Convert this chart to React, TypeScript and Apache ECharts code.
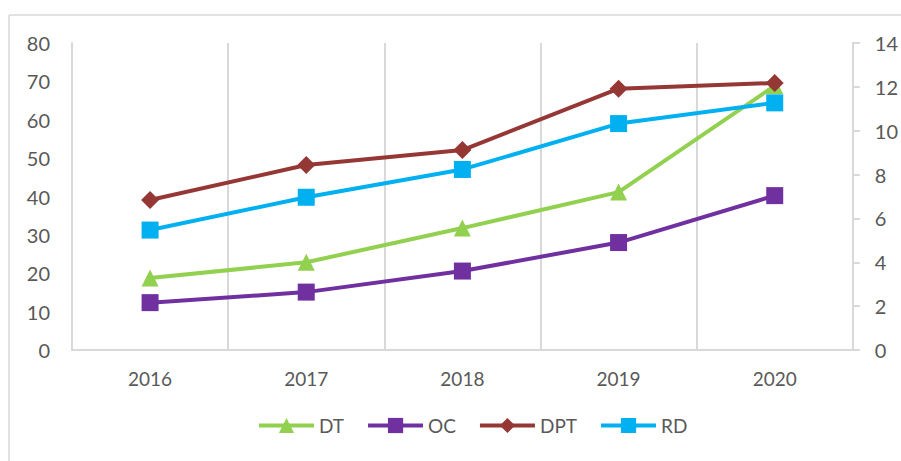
import React, { useEffect, useRef } from "react";
import * as echarts from "echarts";

const categories = ["2016", "2017", "2018", "2019", "2020"];
const leftTicks = { min: 0, max: 80, interval: 10 };
const rightTicks = { min: 0, max: 14, interval: 2 };

// right-axis series
const dtValues = [3.28, 4.0, 5.56, 7.2, 12.05];
const ocValues = [2.16, 2.64, 3.6, 4.9, 7.04];
// left-axis series
const dptValues = [39.1, 48.2, 52.1, 68.1, 69.6];
const rdValues = [31.25, 39.8, 47.05, 59.0, 64.4];

const FONT = "Lato, 'Noto Sans', sans-serif";
const GRID_COLOR = "#d9d9d9";
const TEXT_COLOR = "#595959";

export default function App() {
  const ref = useRef<HTMLDivElement>(null);

  useEffect(() => {
    if (!ref.current) return;
    const chart = echarts.init(ref.current, undefined, { renderer: "svg" });
    const mk = (
      name: string,
      data: number[],
      color: string,
      symbol: string,
      yAxisIndex: number,
      size: number
    ) => ({
      name,
      type: "line",
      data,
      yAxisIndex,
      symbol,
      symbolSize: size,
      showSymbol: true,
      lineStyle: { color, width: 4 },
      itemStyle: { color },
      emphasis: { disabled: true },
    });
    chart.setOption({
      animation: false,
      textStyle: { fontFamily: FONT },
      grid: { left: 72, right: 48, top: 43, bottom: 111, containLabel: false },
      graphic: [
        {
          type: "line",
          shape: { x1: 9, y1: 15, x2: 901, y2: 15 },
          style: { stroke: GRID_COLOR, lineWidth: 1.5 },
          silent: true,
        },
        {
          type: "line",
          shape: { x1: 9, y1: 15, x2: 9, y2: 461 },
          style: { stroke: GRID_COLOR, lineWidth: 1.5 },
          silent: true,
        },
      ],
      legend: {
        left: 252,
        top: 411,
        itemWidth: 55,
        itemHeight: 19,
        itemGap: 22,
        lineStyle: { width: 4 },
        textStyle: { fontSize: 19, color: TEXT_COLOR, fontFamily: FONT },
        data: ["DT", "OC", "DPT", "RD"],
      },
      xAxis: {
        type: "category",
        data: categories,
        boundaryGap: true,
        axisLine: { show: true, lineStyle: { color: GRID_COLOR, width: 2 } },
        axisTick: { show: false },
        splitLine: { show: true, lineStyle: { color: GRID_COLOR, width: 2 } },
        axisLabel: { fontSize: 19, color: TEXT_COLOR, margin: 19, fontFamily: FONT },
      },
      yAxis: [
        {
          type: "value",
          min: leftTicks.min,
          max: leftTicks.max,
          interval: leftTicks.interval,
          position: "left",
          axisLine: { show: true, lineStyle: { color: GRID_COLOR, width: 2 } },
          axisTick: { show: false },
          splitLine: { show: false },
          axisLabel: { fontSize: 20, color: TEXT_COLOR, margin: 22, fontFamily: FONT },
        },
        {
          type: "value",
          min: rightTicks.min,
          max: rightTicks.max,
          interval: rightTicks.interval,
          position: "right",
          axisLine: { show: true, lineStyle: { color: GRID_COLOR, width: 2 } },
          axisTick: { show: true, length: 7, inside: false, lineStyle: { color: GRID_COLOR, width: 2 } },
          splitLine: { show: false },
          axisLabel: { fontSize: 20, color: TEXT_COLOR, margin: 22, fontFamily: FONT },
        },
      ],
      series: [
        mk("DT", dtValues, "#92D050", "triangle", 1, 17),
        mk("OC", ocValues, "#7030A0", "rect", 1, 17),
        mk("DPT", dptValues, "#953735", "diamond", 0, 18),
        mk("RD", rdValues, "#00B0F0", "rect", 0, 17),
      ],
    });
    return () => chart.dispose();
  }, []);

  return (
    <div
      ref={ref}
      style={{ position: "fixed", left: 0, top: 0, width: 901, height: 461, background: "#fff" }}
    />
  );
}
